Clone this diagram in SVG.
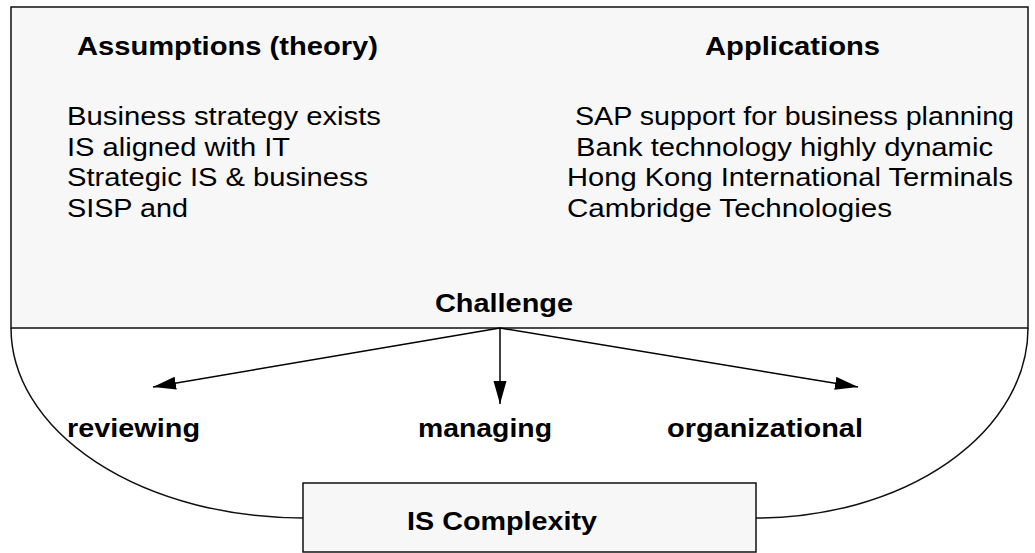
<svg xmlns="http://www.w3.org/2000/svg" width="1035" height="553" viewBox="0 0 1035 553">
  <style>
    .box { fill: #f7f7f7; stroke: #111; stroke-width: 1.5; }
    .edge { fill: none; stroke: #111; stroke-width: 1.5; }
    .arrow { fill: none; stroke: #000; stroke-width: 1.5; marker-end: url(#ah); }
    text { font-family: "Liberation Sans", Arial, sans-serif; font-size: 25px; fill: #000; }
    .b { font-weight: bold; }
  </style>
  <defs>
    <marker id="ah" markerUnits="userSpaceOnUse" markerWidth="24" markerHeight="14" refX="23" refY="6.5" orient="auto">
      <path d="M0,0 L23,6.5 L0,13 z" fill="#000"/>
    </marker>
  </defs>
  <rect width="1035" height="553" fill="#ffffff"/>

  <g id="top-panel">
    <rect class="box" x="11" y="7" width="1017" height="321"/>
  </g>

  <g id="assumptions">
    <text class="b" x="77" y="55" textLength="301" lengthAdjust="spacingAndGlyphs">Assumptions (theory)</text>
    <text x="67" y="125" textLength="314" lengthAdjust="spacingAndGlyphs">Business strategy exists</text>
    <text x="67" y="156" textLength="223" lengthAdjust="spacingAndGlyphs">IS aligned with IT</text>
    <text x="67" y="186" textLength="301" lengthAdjust="spacingAndGlyphs">Strategic IS &amp; business</text>
    <text x="67" y="217" textLength="121" lengthAdjust="spacingAndGlyphs">SISP and</text>
  </g>

  <g id="applications">
    <text class="b" x="705" y="55" textLength="175" lengthAdjust="spacingAndGlyphs">Applications</text>
    <text x="575" y="125" textLength="439" lengthAdjust="spacingAndGlyphs">SAP support for business planning</text>
    <text x="576" y="156" textLength="417" lengthAdjust="spacingAndGlyphs">Bank technology highly dynamic</text>
    <text x="567" y="186" textLength="446" lengthAdjust="spacingAndGlyphs">Hong Kong International Terminals</text>
    <text x="567" y="217" textLength="325" lengthAdjust="spacingAndGlyphs">Cambridge Technologies</text>
  </g>

  <g id="challenge">
    <text class="b" x="435" y="312" textLength="138" lengthAdjust="spacingAndGlyphs">Challenge</text>
  </g>

  <g id="connectors">
    <path class="edge" d="M11,328 A292,190 0 0 0 303,518"/>
    <path class="edge" d="M1028,328 A272,190 0 0 1 756,518"/>
    <line class="arrow" x1="500" y1="328" x2="153" y2="387"/>
    <line class="arrow" x1="500" y1="328" x2="500" y2="404"/>
    <line class="arrow" x1="500" y1="328" x2="858" y2="387"/>
  </g>

  <g id="reviewing">
    <text class="b" x="67" y="437" textLength="133" lengthAdjust="spacingAndGlyphs">reviewing</text>
  </g>
  <g id="managing">
    <text class="b" x="418" y="437" textLength="134" lengthAdjust="spacingAndGlyphs">managing</text>
  </g>
  <g id="organizational">
    <text class="b" x="667" y="437" textLength="196" lengthAdjust="spacingAndGlyphs">organizational</text>
  </g>

  <g id="is-complexity">
    <rect class="box" x="303" y="483" width="453" height="69"/>
    <text class="b" x="407" y="530" textLength="190" lengthAdjust="spacingAndGlyphs">IS Complexity</text>
  </g>
</svg>
